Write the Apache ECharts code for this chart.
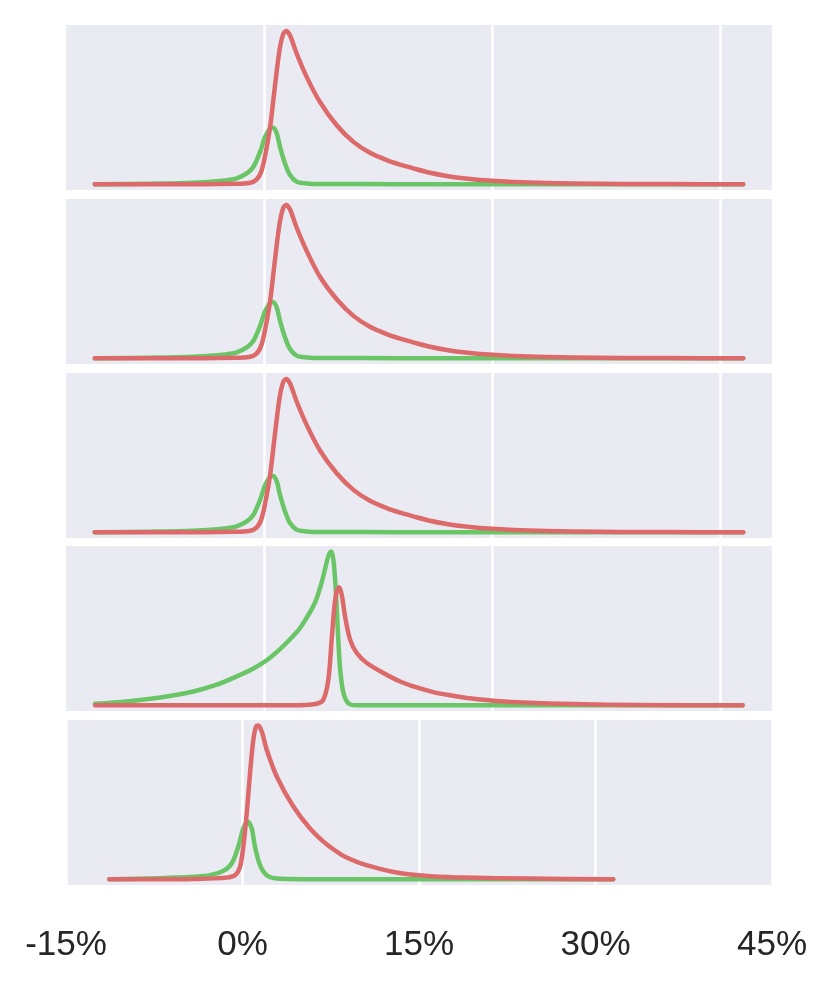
<!DOCTYPE html>
<html>
<head>
<meta charset="utf-8">
<script src="https://cdn.jsdelivr.net/npm/echarts@6/dist/echarts.min.js"></script>
<style>
html,body{margin:0;padding:0;background:#fff;}
#chart{width:832px;height:984px;}
</style>
</head>
<body>
<div id="chart"></div>
<script>
// ---- data (x in %, y = relative density) ----
const gridTicksTop = [0, 15, 30];            // grid lines of the four upper panels
const bottomTicks = [-15, 0, 15, 30, 45];     // tick labels of the bottom panel

const p1Green = [[-11.16,0],[-7.5,0.004],[-4.69,0.010],[-2.91,0.022],[-1.82,0.039],[-1.16,0.071],[-0.72,0.114],[-0.28,0.211],[0.05,0.308],[0.38,0.363],[0.59,0.368],[0.82,0.331],[1.03,0.244],[1.36,0.136],[1.69,0.060],[2.13,0.017],[2.79,0.006],[3.66,0.002],[8.93,0.001],[15.5,0],[31.51,0]];
const p1Red = [[-11.16,0],[-6,0],[-2,0.003],[-1,0.008],[-0.5,0.032],[-0.17,0.093],[0.16,0.244],[0.38,0.373],[0.59,0.546],[0.82,0.741],[1.03,0.892],[1.25,0.979],[1.43,0.997],[1.69,0.968],[2.13,0.849],[2.79,0.697],[3.66,0.535],[4.76,0.384],[5.86,0.276],[6.95,0.205],[8.05,0.157],[8.93,0.128],[9.8,0.104],[10.9,0.075],[12.0,0.054],[13.09,0.039],[14.19,0.028],[16.38,0.015],[18.58,0.008],[22.09,0.003],[24.72,0.002],[28.66,0.001],[31.51,0]];

const p2Green = [[-11.16,0],[-7.5,0.004],[-4.69,0.010],[-2.91,0.022],[-1.82,0.039],[-1.16,0.071],[-0.72,0.114],[-0.28,0.211],[0.05,0.306],[0.38,0.360],[0.59,0.365],[0.82,0.329],[1.03,0.243],[1.36,0.136],[1.69,0.060],[2.13,0.017],[2.79,0.006],[3.66,0.002],[8.93,0.001],[15.5,0],[31.51,0]];
const p2Red = [[-11.16,0],[-6,0],[-2,0.003],[-1,0.008],[-0.5,0.032],[-0.17,0.093],[0.16,0.244],[0.38,0.373],[0.59,0.546],[0.82,0.741],[1.03,0.892],[1.25,0.979],[1.43,0.997],[1.69,0.968],[2.13,0.849],[2.79,0.697],[3.66,0.530],[4.76,0.384],[5.86,0.276],[6.95,0.205],[8.05,0.157],[8.93,0.128],[9.8,0.104],[10.9,0.075],[12.0,0.054],[13.09,0.039],[14.19,0.028],[16.38,0.015],[18.58,0.008],[22.09,0.003],[24.72,0.002],[28.66,0.001],[31.51,0]];

const p3Green = [[-11.16,0],[-7.5,0.004],[-4.69,0.010],[-2.91,0.022],[-1.82,0.039],[-1.16,0.071],[-0.72,0.114],[-0.28,0.211],[0.05,0.306],[0.38,0.362],[0.59,0.367],[0.82,0.330],[1.03,0.244],[1.36,0.136],[1.69,0.060],[2.13,0.017],[2.79,0.006],[3.66,0.002],[8.93,0.001],[15.5,0],[31.51,0]];
const p3Red = [[-11.16,0],[-6,0],[-2,0.003],[-1,0.008],[-0.5,0.032],[-0.17,0.093],[0.16,0.244],[0.38,0.373],[0.59,0.546],[0.82,0.741],[1.03,0.892],[1.25,0.979],[1.43,0.997],[1.69,0.968],[2.13,0.849],[2.79,0.697],[3.66,0.532],[4.76,0.384],[5.86,0.276],[6.95,0.205],[8.05,0.157],[8.93,0.128],[9.8,0.104],[10.9,0.075],[12.0,0.054],[13.09,0.039],[14.19,0.028],[16.38,0.015],[18.58,0.008],[22.09,0.003],[24.72,0.002],[28.66,0.001],[31.51,0]];

const p4Green = [[-11.14,0.010],[-9.05,0.025],[-6.86,0.051],[-4.67,0.090],[-3.13,0.134],[-1.82,0.188],[-0.72,0.240],[0.16,0.293],[1.03,0.365],[1.91,0.452],[2.35,0.503],[2.79,0.570],[3.22,0.645],[3.45,0.698],[3.66,0.762],[3.88,0.839],[3.99,0.885],[4.21,0.969],[4.39,1.0],[4.54,0.948],[4.70,0.752],[4.83,0.492],[4.98,0.244],[5.20,0.081],[5.53,0.013],[6.08,0.001],[8.93,0],[31.47,0]];
const p4Red = [[-11.14,0],[-4.23,0],[2.35,0.001],[3.45,0.010],[3.88,0.036],[4.21,0.166],[4.43,0.427],[4.61,0.644],[4.76,0.741],[4.91,0.767],[5.09,0.720],[5.31,0.578],[5.64,0.427],[6.08,0.340],[6.74,0.275],[7.83,0.210],[8.93,0.155],[10.03,0.116],[11.12,0.086],[12.22,0.065],[13.32,0.048],[14.41,0.036],[15.51,0.026],[17.04,0.018],[20.33,0.008],[24.72,0.002],[31.47,0]];

const p5Green = [[-11.32,0],[-7.01,0.007],[-4.18,0.016],[-2.76,0.026],[-1.63,0.055],[-0.92,0.103],[-0.36,0.212],[0.07,0.331],[0.44,0.375],[0.78,0.331],[1.06,0.212],[1.49,0.092],[2.06,0.026],[2.91,0.005],[6.59,0],[31.51,0]];
const p5Red = [[-11.32,0],[-7.01,0],[-4.18,0.002],[-1.34,0.011],[-0.64,0.026],[-0.21,0.081],[0.07,0.212],[0.36,0.429],[0.64,0.691],[0.92,0.908],[1.15,0.992],[1.34,1.0],[1.63,0.963],[2.06,0.843],[2.91,0.669],[4.32,0.473],[5.74,0.331],[7.16,0.227],[8.29,0.166],[8.85,0.142],[10.27,0.098],[11.68,0.068],[13.10,0.044],[14.51,0.029],[15.93,0.020],[18.76,0.011],[24.43,0.005],[31.51,0]];

// ---- chart ----
const GREEN = '#6AC566';
const RED = '#DD6A6A';
const panels = [
  {green: p1Green, red: p1Red, top: 25},
  {green: p2Green, red: p2Red, top: 199},
  {green: p3Green, red: p3Red, top: 373},
  {green: p4Green, red: p4Red, top: 546},
  {green: p5Green, red: p5Red, top: 720}
];
const grids = [], xAxes = [], yAxes = [], series = [];
panels.forEach((p, i) => {
  const isBottom = i === panels.length - 1;
  grids.push({left: 66, right: 60, top: p.top, height: 165, show: true,
    backgroundColor: '#EAEAF2', borderWidth: 0});
  if (isBottom) {
    xAxes.push({type: 'value', gridIndex: i, min: bottomTicks[0], max: bottomTicks[bottomTicks.length-1], interval: 15,
      axisLine: {show: false}, axisTick: {show: false},
      axisLabel: {show: true, formatter: '{value}%', fontSize: 35, color: '#262626',
        fontFamily: 'Liberation Sans, Arial, sans-serif', margin: 43, showMinLabel: true, showMaxLabel: true},
      splitLine: {show: true, lineStyle: {color: '#FFFFFF', width: 2.5}}});
  } else {
    xAxes.push({type: 'value', gridIndex: i, min: -13.05, max: 33.4,
      axisLine: {show: false}, axisTick: {show: false}, axisLabel: {show: false},
      splitLine: {show: false}});
  }
  yAxes.push({type: 'value', gridIndex: i, min: -0.037, max: 1.036, show: false, splitLine: {show: false}});
  const green = {type: 'line', xAxisIndex: i, yAxisIndex: i, data: p.green, showSymbol: false,
    smooth: 0.3, z: 2, lineStyle: {color: GREEN, width: 4.5, cap: 'round', join: 'round'}, silent: true};
  if (!isBottom) {
    green.markLine = {silent: true, z: 1, symbol: ['none', 'none'], label: {show: false},
      lineStyle: {color: '#FFFFFF', width: 2.5, type: 'solid'},
      emphasis: {disabled: true},
      data: gridTicksTop.map(v => ({xAxis: v}))};
  }
  series.push(green);
  series.push({type: 'line', xAxisIndex: i, yAxisIndex: i, data: p.red, showSymbol: false,
    smooth: 0.3, z: 3, lineStyle: {color: RED, width: 4.5, cap: 'round', join: 'round'}, silent: true});
});

const chart = echarts.init(document.getElementById('chart'), null, {renderer: 'canvas'});
chart.setOption({
  animation: false,
  backgroundColor: '#FFFFFF',
  grid: grids,
  xAxis: xAxes,
  yAxis: yAxes,
  series: series
});
</script>
</body>
</html>
